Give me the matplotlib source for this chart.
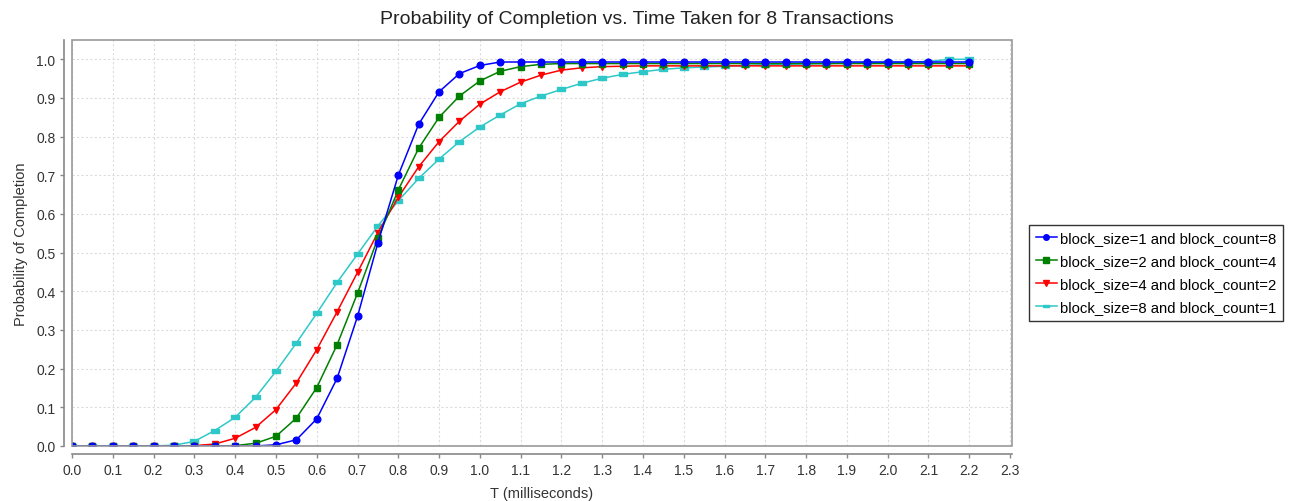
import matplotlib.pyplot as plt
import matplotlib.ticker as ticker
from matplotlib.patches import Rectangle

plt.rcParams['font.family'] = ['Liberation Sans', 'DejaVu Sans']

# T in milliseconds, sampled every 0.05
t_ms = [round(0.05 * i, 2) for i in range(45)]

p_bs1 = [0.0, 0.0, 0.0, 0.0, 0.0, 0.0, 0.0, 0.0, 0.0, 0.0,
         0.003, 0.016, 0.070, 0.175, 0.335, 0.525, 0.700, 0.832, 0.916, 0.963,
         0.984, 0.993, 0.993, 0.993, 0.993, 0.993, 0.993, 0.993, 0.993, 0.993,
         0.993, 0.993, 0.993, 0.993, 0.993, 0.993, 0.993, 0.993, 0.993, 0.993,
         0.993, 0.993, 0.993, 0.993, 0.993]
p_bs2 = [0.0, 0.0, 0.0, 0.0, 0.0, 0.0, 0.0, 0.0, 0.001, 0.007,
         0.025, 0.072, 0.151, 0.262, 0.395, 0.537, 0.662, 0.770, 0.850, 0.905,
         0.944, 0.969, 0.981, 0.987, 0.989, 0.989, 0.989, 0.989, 0.989, 0.989,
         0.989, 0.989, 0.989, 0.989, 0.989, 0.989, 0.989, 0.989, 0.989, 0.989,
         0.989, 0.989, 0.989, 0.989, 0.989]
p_bs4 = [0.0, 0.0, 0.0, 0.0, 0.0, 0.0, 0.001, 0.005, 0.020, 0.048,
         0.094, 0.163, 0.249, 0.347, 0.449, 0.552, 0.643, 0.722, 0.787, 0.840,
         0.884, 0.916, 0.941, 0.959, 0.972, 0.978, 0.981, 0.982, 0.983, 0.983,
         0.983, 0.983, 0.983, 0.983, 0.983, 0.983, 0.983, 0.983, 0.983, 0.983,
         0.983, 0.983, 0.983, 0.983, 0.983]
p_bs8 = [0.0, 0.0, 0.0, 0.0, 0.0, 0.002, 0.012, 0.040, 0.074, 0.126,
         0.193, 0.266, 0.343, 0.423, 0.496, 0.569, 0.634, 0.692, 0.742, 0.787,
         0.825, 0.856, 0.885, 0.905, 0.922, 0.938, 0.951, 0.961, 0.968, 0.974,
         0.978, 0.980, 0.982, 0.984, 0.986, 0.987, 0.988, 0.989, 0.990, 0.991,
         0.992, 0.993, 0.994, 1.0, 1.0]

series_labels = ['block_size=1 and block_count=8',
                 'block_size=2 and block_count=4',
                 'block_size=4 and block_count=2',
                 'block_size=8 and block_count=1']

# wide flat rectangle used for the last series
hrect = [(-3, -1.5), (3, -1.5), (3, 1.5), (-3, 1.5), (-3, -1.5)]

styles = [
    (p_bs1, '#0000ff', 'o', 4.8, 5),
    (p_bs2, '#008000', 's', 4.3, 4),
    (p_bs4, '#ff0000', 'v', 5.0, 3),
    (p_bs8, '#2fc8c8', hrect, 5.2, 2),
]

fig = plt.figure(figsize=(12.89, 5.02), dpi=100)
ax = fig.add_axes([0.0559, 0.1096, 0.7292, 0.8088])

for (vals, color, marker, ms, z), label in zip(styles, series_labels):
    ax.plot(t_ms, vals, color=color, lw=1.1, marker=marker, ms=ms,
            mec=color, mfc=color, label=label, zorder=z)

ax.set_xlim(0, 2.305)
ax.set_ylim(0, 1.05)
ax.xaxis.set_major_locator(ticker.MultipleLocator(0.1))
ax.yaxis.set_major_locator(ticker.MultipleLocator(0.1))
ax.xaxis.set_major_formatter(ticker.FormatStrFormatter('%.1f'))
ax.yaxis.set_major_formatter(ticker.FormatStrFormatter('%.1f'))

ax.grid(True, color='#dcdcdc', linestyle=(0, (2, 2)), linewidth=0.8)
ax.set_axisbelow(True)

# axis lines sit a few pixels away from the plot border
for side in ('top', 'right'):
    ax.spines[side].set_visible(False)
for side in ('left', 'bottom'):
    ax.spines[side].set_position(('outward', 6))
    ax.spines[side].set_color('#888888')
    ax.spines[side].set_linewidth(1.2)
ax.add_patch(Rectangle((0, 0), 1, 1, transform=ax.transAxes, fill=False,
                       edgecolor='#999999', linewidth=1.2, clip_on=False,
                       zorder=10))

ax.tick_params(axis='both', direction='out', length=3, width=1,
               color='#888888', labelsize=10, labelcolor='#333333', pad=3)

fig.suptitle('Probability of Completion vs. Time Taken for 8 Transactions',
             x=0.494, y=0.978, va='top', fontsize=14, color='#222222')
ax.set_xlabel('T (milliseconds)', fontsize=10.5, color='#333333', labelpad=7)
ax.set_ylabel('Probability of Completion', fontsize=10.5, color='#333333',
              labelpad=6)

leg = fig.legend(loc='center left', bbox_to_anchor=(0.7985, 0.455),
                 fontsize=10.7, frameon=True, fancybox=False,
                 edgecolor='black', borderpad=0.45, labelspacing=0.6,
                 handlelength=1.4, handletextpad=0.25, borderaxespad=0)
leg.get_frame().set_linewidth(1.0)
for h in leg.legend_handles:
    h.set_markersize(4)

fig.savefig('out.png', dpi=100)
